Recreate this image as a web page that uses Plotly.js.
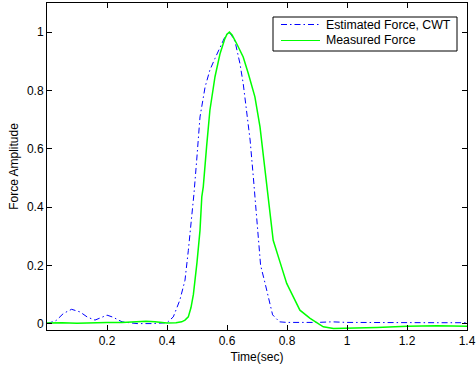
<!DOCTYPE html>
<html>
<head>
<meta charset="utf-8">
<script src="https://cdn.plot.ly/plotly-3.0.1.min.js"></script>
<style>html,body{margin:0;padding:0;background:#fff;}#chart{width:476px;height:372px;}</style>
</head>
<body>
<div id="chart"></div>
<script>
const estName = "Estimated Force, CWT";
const measName = "Measured Force";
const estT = [0, 0.03, 0.055, 0.082, 0.11, 0.135, 0.16, 0.18, 0.2, 0.22, 0.25, 0.3, 0.35, 0.4, 0.421, 0.443, 0.46, 0.471, 0.482, 0.49, 0.499, 0.51, 0.527, 0.543, 0.56, 0.582, 0.595, 0.605, 0.615, 0.627, 0.643, 0.654, 0.666, 0.677, 0.688, 0.699, 0.712, 0.727, 0.742, 0.752, 0.775, 0.8, 0.9, 0.95, 1.0, 1.1, 1.2, 1.3, 1.4];
const estV = [0.0, 0.01, 0.035, 0.049, 0.04, 0.022, 0.012, 0.02, 0.029, 0.022, 0.006, 0.0, 0.0, 0.003, 0.023, 0.081, 0.149, 0.25, 0.355, 0.447, 0.561, 0.709, 0.812, 0.87, 0.91, 0.961, 0.988, 1.0, 0.99, 0.967, 0.893, 0.824, 0.732, 0.63, 0.5, 0.35, 0.2, 0.138, 0.069, 0.03, 0.006, 0.004, 0.004, 0.006, 0.004, 0.003, 0.003, 0.003, 0.003];
const measT = [0, 0.05, 0.1, 0.15, 0.2, 0.25, 0.3, 0.33, 0.36, 0.4, 0.43, 0.449, 0.46, 0.471, 0.48, 0.488, 0.5, 0.51, 0.516, 0.521, 0.532, 0.543, 0.56, 0.577, 0.593, 0.6, 0.608, 0.617, 0.632, 0.654, 0.671, 0.693, 0.71, 0.723, 0.735, 0.743, 0.754, 0.777, 0.799, 0.81, 0.832, 0.843, 0.877, 0.9, 0.921, 0.955, 1.0, 1.1, 1.2, 1.3, 1.4];
const measV = [0.002, 0.003, 0.001, 0.003, 0.004, 0.004, 0.007, 0.008, 0.006, 0.002, 0.003, 0.006, 0.012, 0.023, 0.055, 0.1, 0.21, 0.32, 0.435, 0.47, 0.607, 0.732, 0.847, 0.927, 0.978, 0.993, 1.0, 0.99, 0.961, 0.915, 0.858, 0.778, 0.675, 0.561, 0.45, 0.378, 0.286, 0.21, 0.138, 0.115, 0.069, 0.046, 0.018, 0.003, -0.011, -0.017, -0.015, -0.013, -0.009, -0.007, -0.009];
const xTicks = [0.2, 0.4, 0.6, 0.8, 1, 1.2, 1.4];
const xTickText = ["0.2", "0.4", "0.6", "0.8", "1", "1.2", "1.4"];
const yTicks = [0, 0.2, 0.4, 0.6, 0.8, 1];
const yTickText = ["0", "0.2", "0.4", "0.6", "0.8", "1"];

const estColor = '#0000ff', measColor = '#00ff00';
const estDash = '6px,3px,1.5px,3px';
const traces = [
  {x: estT, y: estV, type: 'scatter', mode: 'lines', name: estName,
   line: {color: estColor, width: 1, dash: estDash}},
  {x: measT, y: measV, type: 'scatter', mode: 'lines', name: measName,
   line: {color: measColor, width: 1.5}}
];
const fontFam = '"Liberation Sans", Arial, sans-serif';
const axisCommon = {
  showline: true, linecolor: '#000', linewidth: 1, mirror: 'ticks',
  ticks: 'inside', ticklen: 5, tickcolor: '#000', showgrid: false, zeroline: false,
  tickfont: {family: fontFam, size: 12, color: '#000'}
};
// plot area in pixels (for a manual MATLAB-style legend)
const L = 47, T = 3, W = 420, H = 327;
const px = v => (v - L) / W;
const py = v => (T + H - v) / H;
const legBox = {x0: 273, x1: 457, y0: 17, y1: 51};
const rowY = [24.5, 40.5];
const shapes = [
  {type: 'rect', xref: 'paper', yref: 'paper', x0: px(legBox.x0), x1: px(legBox.x1), y0: py(legBox.y1), y1: py(legBox.y0),
   line: {color: '#000', width: 1}, fillcolor: '#fff', layer: 'above'},
  {type: 'line', xref: 'paper', yref: 'paper', x0: px(281), x1: px(320), y0: py(rowY[0]), y1: py(rowY[0]),
   line: {color: estColor, width: 1, dash: estDash}, layer: 'above'},
  {type: 'line', xref: 'paper', yref: 'paper', x0: px(281), x1: px(320), y0: py(rowY[1]), y1: py(rowY[1]),
   line: {color: measColor, width: 1}, layer: 'above'}
];
const annotations = [
  {xref: 'paper', yref: 'paper', x: px(324), y: py(rowY[0]), xanchor: 'left', yanchor: 'middle', showarrow: false,
   text: estName, font: {family: fontFam, size: 12.3, color: '#000'}},
  {xref: 'paper', yref: 'paper', x: px(324), y: py(rowY[1]), xanchor: 'left', yanchor: 'middle', showarrow: false,
   text: measName, font: {family: fontFam, size: 12.3, color: '#000'}}
];
const layout = {
  width: 476, height: 372,
  margin: {l: L, r: 476 - L - W, t: T, b: 372 - T - H},
  paper_bgcolor: '#fff', plot_bgcolor: '#fff',
  showlegend: false,
  font: {family: fontFam, size: 12, color: '#000'},
  xaxis: Object.assign({}, axisCommon, {
    range: [0, 1.4], tickvals: xTicks, ticktext: xTickText,
    title: {text: 'Time(sec)', font: {family: fontFam, size: 12, color: '#000'}, standoff: 5}
  }),
  yaxis: Object.assign({}, axisCommon, {
    range: [-0.022, 1.1], tickvals: yTicks, ticktext: yTickText,
    title: {text: 'Force Amplitude', font: {family: fontFam, size: 12, color: '#000'}, standoff: 5}
  }),
  shapes: shapes,
  annotations: annotations
};
Plotly.newPlot('chart', traces, layout, {displayModeBar: false, staticPlot: true});
</script>
</body>
</html>
